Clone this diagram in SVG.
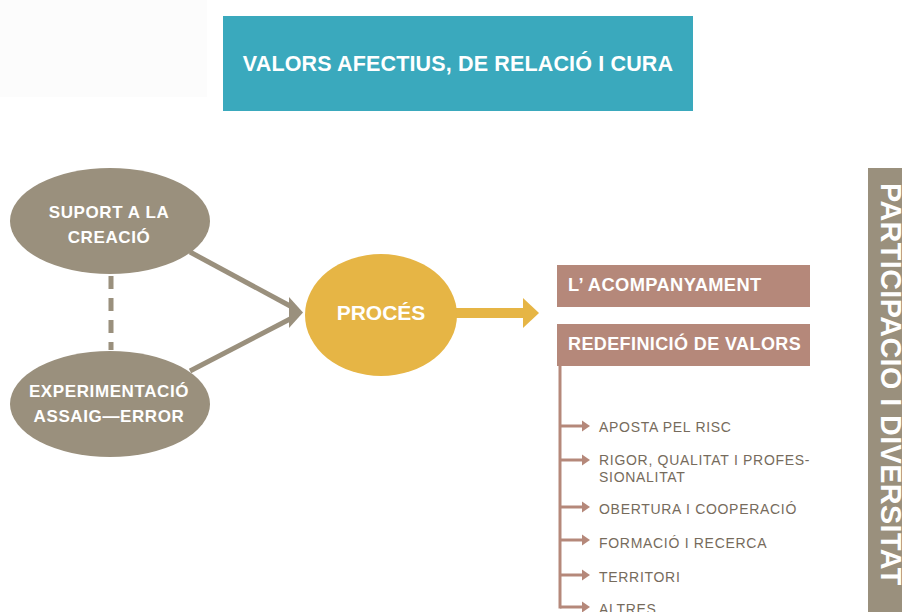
<svg xmlns="http://www.w3.org/2000/svg" width="902" height="612" viewBox="0 0 902 612">
<defs>
<style>
.b{font-family:"Liberation Sans",Arial,sans-serif;font-weight:bold;fill:#fff}
.e{letter-spacing:0.6px}
.r{letter-spacing:0.4px}
.item{font-family:"Liberation Sans",Arial,sans-serif;font-size:14px;letter-spacing:0.7px;fill:#766b5c}
.grey{fill:#9a907d}
.brown{fill:#b5887a}
.bl{stroke:#b5887a;stroke-width:3;fill:none}
</style>
<marker id="bh" markerUnits="userSpaceOnUse" markerWidth="8" markerHeight="12" refX="0" refY="6" orient="auto">
<path d="M0,0.5 L8,6 L0,11.5 z" fill="#b5887a"/>
</marker>
</defs>
<rect width="902" height="612" fill="#fff"/>
<rect x="0" y="0" width="207" height="97" fill="#fcfcfc"/>

<g id="title">
<rect x="223" y="16" width="470" height="95" fill="#3aa9bd"/>
<text class="b" x="458" y="71" font-size="21.5" letter-spacing="0.15" text-anchor="middle">VALORS AFECTIUS, DE RELACIÓ I CURA</text>
</g>

<g id="connectors">
<line x1="111" y1="276" x2="111" y2="350" stroke="#9a907d" stroke-width="5" stroke-dasharray="13 9"/>
<line x1="190" y1="252" x2="292" y2="307" stroke="#9a907d" stroke-width="5"/>
<line x1="190" y1="371" x2="292" y2="318" stroke="#9a907d" stroke-width="5"/>
<polygon points="289,297 303,312.5 289,328" fill="#9a907d"/>
<line x1="455" y1="313" x2="524" y2="313" stroke="#e6b545" stroke-width="10"/>
<polygon points="523,298 539,313 523,328" fill="#e6b545"/>
<line class="bl" x1="560" y1="366" x2="560" y2="608.5"/>
<line class="bl" x1="560" y1="426" x2="582" y2="426" marker-end="url(#bh)"/>
<line class="bl" x1="560" y1="460" x2="582" y2="460" marker-end="url(#bh)"/>
<line class="bl" x1="560" y1="507" x2="582" y2="507" marker-end="url(#bh)"/>
<line class="bl" x1="560" y1="540" x2="582" y2="540" marker-end="url(#bh)"/>
<line class="bl" x1="560" y1="575" x2="582" y2="575" marker-end="url(#bh)"/>
<line class="bl" x1="560" y1="607" x2="582" y2="607" marker-end="url(#bh)"/>
</g>

<g id="suport">
<ellipse class="grey" cx="110" cy="221" rx="100" ry="53"/>
<text class="b e" x="109" y="218" font-size="17" text-anchor="middle">SUPORT A LA</text>
<text class="b e" x="109" y="243" font-size="17" text-anchor="middle">CREACIÓ</text>
</g>

<g id="experimentacio">
<ellipse class="grey" cx="110" cy="404" rx="100" ry="53"/>
<text class="b e" x="109" y="397" font-size="17" text-anchor="middle">EXPERIMENTACIÓ</text>
<text class="b e" x="109" y="422" font-size="17" text-anchor="middle">ASSAIG—ERROR</text>
</g>

<g id="proces">
<ellipse cx="381" cy="315" rx="76" ry="61" fill="#e6b545"/>
<text class="b" x="381" y="320" font-size="21" text-anchor="middle">PROCÉS</text>
</g>

<g id="acompanyament">
<rect class="brown" x="557" y="265" width="253" height="42"/>
<text class="b r" x="568" y="291" font-size="18.3">L’ ACOMPANYAMENT</text>
</g>

<g id="redefinicio">
<rect class="brown" x="557" y="324" width="253" height="42"/>
<text class="b r" x="568" y="350" font-size="18">REDEFINICIÓ DE VALORS</text>
</g>

<g id="items">
<text class="item" x="599" y="432">APOSTA PEL RISC</text>
<text class="item" x="599" y="465">RIGOR, QUALITAT I PROFES-</text>
<text class="item" x="599" y="482">SIONALITAT</text>
<text class="item" x="599" y="514">OBERTURA I COOPERACIÓ</text>
<text class="item" x="599" y="548">FORMACIÓ I RECERCA</text>
<text class="item" x="599" y="582">TERRITORI</text>
<text class="item" x="599" y="614">ALTRES</text>
</g>

<g id="participacio">
<rect class="grey" x="868" y="168" width="34" height="444"/>
<text class="b" transform="translate(881,183) rotate(90)" x="0" y="0" font-size="28.7" letter-spacing="0.45">PARTICIPACIÓ I DIVERSITAT</text>
</g>
</svg>
